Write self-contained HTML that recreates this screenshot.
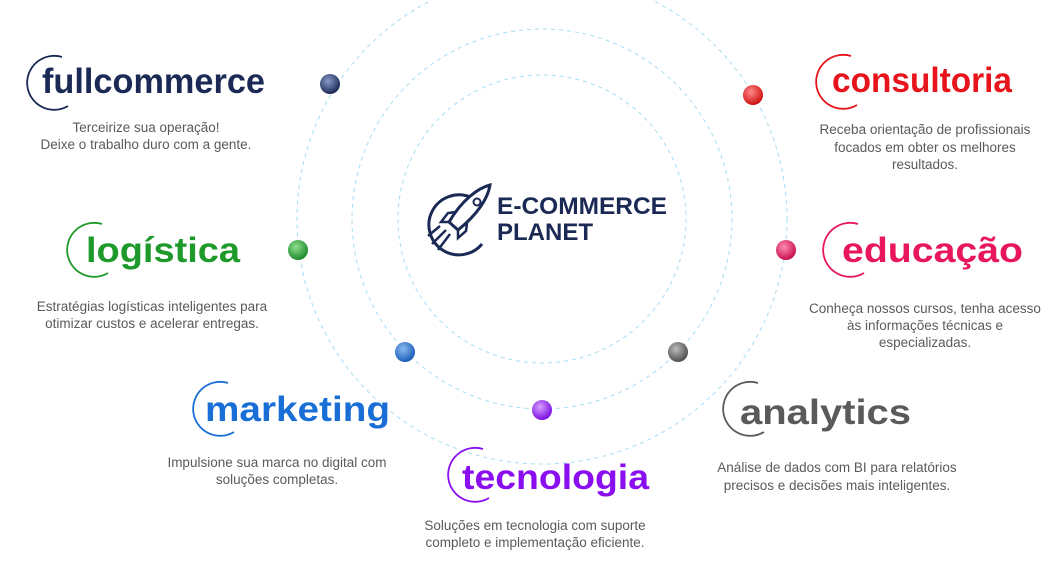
<!DOCTYPE html>
<html><head><meta charset="utf-8"><style>
html,body{margin:0;padding:0;background:#fff;width:1050px;height:562px;overflow:hidden}
svg{display:block}
.t{font-family:"Liberation Sans",sans-serif;font-weight:bold;font-size:35px}
.d{font-family:"Liberation Sans",sans-serif;font-size:13.5px;fill:#5a5a5a;text-anchor:middle}
.logo{font-family:"Liberation Sans",sans-serif;font-weight:bold;font-size:24px;fill:#1b2a55}
</style></head><body>
<svg width="1050" height="562" viewBox="0 0 1050 562" xmlns="http://www.w3.org/2000/svg">
<defs>
<radialGradient id="g1" cx="40%" cy="35%" r="65%"><stop offset="0" stop-color="#8a9ac8"/><stop offset="1" stop-color="#1b2a55"/></radialGradient>
<radialGradient id="g2" cx="40%" cy="35%" r="65%"><stop offset="0" stop-color="#ff8a8a"/><stop offset="1" stop-color="#d01010"/></radialGradient>
<radialGradient id="g3" cx="40%" cy="35%" r="65%"><stop offset="0" stop-color="#8ee08e"/><stop offset="1" stop-color="#1e8a2a"/></radialGradient>
<radialGradient id="g4" cx="40%" cy="35%" r="65%"><stop offset="0" stop-color="#ff8ab0"/><stop offset="1" stop-color="#c8104e"/></radialGradient>
<radialGradient id="g5" cx="40%" cy="35%" r="65%"><stop offset="0" stop-color="#8ab8f0"/><stop offset="1" stop-color="#1a5fb8"/></radialGradient>
<radialGradient id="g6" cx="40%" cy="35%" r="65%"><stop offset="0" stop-color="#bbbbbb"/><stop offset="1" stop-color="#505050"/></radialGradient>
<radialGradient id="g7" cx="40%" cy="35%" r="65%"><stop offset="0" stop-color="#d8a0ff"/><stop offset="1" stop-color="#7a0ee0"/></radialGradient>
</defs>
<g fill="none" stroke="#a8dcf5" stroke-width="1" stroke-dasharray="4,4">
<circle cx="542" cy="219" r="144"/>
<circle cx="542" cy="219" r="190"/>
<circle cx="542" cy="219" r="245"/>
</g>
<!-- logo -->
<g fill="none" stroke="#1b2a55" stroke-width="3">
<path d="M470 197 A30 30 0 1 0 482 244"/>
<path d="M449 222 C462 200 478 188 490 185 C488 198 478 214 458 230 Z"/>
<circle cx="477" cy="202" r="3.5" stroke-width="2"/>
<path d="M449 222 L441 222 L448 213 L456 212" stroke-width="2.5"/>
<path d="M458 230 L458 238 L466 231 L467 223" stroke-width="2.5"/>
<path d="M446 230 L432 244 M450 234 L438 250 M440 226 L428 236" stroke-width="2.5"/>
</g>
<text class="logo" x="497" y="214" textLength="170" lengthAdjust="spacingAndGlyphs">E-COMMERCE</text>
<text class="logo" x="497" y="240" textLength="96" lengthAdjust="spacingAndGlyphs">PLANET</text>
<!-- dots -->
<circle cx="330" cy="84" r="10" fill="url(#g1)"/>
<circle cx="753" cy="95" r="10" fill="url(#g2)"/>
<circle cx="298" cy="250" r="10" fill="url(#g3)"/>
<circle cx="786" cy="250" r="10" fill="url(#g4)"/>
<circle cx="405" cy="352" r="10" fill="url(#g5)"/>
<circle cx="678" cy="352" r="10" fill="url(#g6)"/>
<circle cx="542" cy="410" r="10" fill="url(#g7)"/>
<!-- titles -->
<g fill="none" stroke-width="1.8">
<path stroke="#1b2a55" d="M62 57 A27 27 0 1 0 68 106"/>
<path stroke="#e8141b" d="M851 56 A27 27 0 1 0 857 105"/>
<path stroke="#1e9a2a" d="M102 224 A27 27 0 1 0 108 273"/>
<path stroke="#e8175d" d="M858 224 A27 27 0 1 0 864 273"/>
<path stroke="#1a6fd6" d="M228 383 A27 27 0 1 0 234 432"/>
<path stroke="#5a5a5a" d="M758 383 A27 27 0 1 0 764 432"/>
<path stroke="#8a0ef0" d="M483 449 A27 27 0 1 0 489 498"/>
</g>
<text class="t" x="42" y="93" fill="#1b2a55" textLength="223" lengthAdjust="spacingAndGlyphs">fullcommerce</text>
<text class="t" x="832" y="92" fill="#e8141b" textLength="180" lengthAdjust="spacingAndGlyphs">consultoria</text>
<text class="t" x="86" y="262" fill="#1e9a2a" textLength="154" lengthAdjust="spacingAndGlyphs">logística</text>
<text class="t" x="842" y="262" fill="#e8175d" textLength="181" lengthAdjust="spacingAndGlyphs">educação</text>
<text class="t" x="205" y="421" fill="#1a6fd6" textLength="185" lengthAdjust="spacingAndGlyphs">marketing</text>
<text class="t" x="740" y="424" fill="#5a5a5a" textLength="171" lengthAdjust="spacingAndGlyphs">analytics</text>
<text class="t" x="462" y="489" fill="#8a0ef0" textLength="187" lengthAdjust="spacingAndGlyphs">tecnologia</text>
<!-- descriptions -->
<text class="d" x="146" y="132">Terceirize sua operação!</text>
<text class="d" x="146" y="149">Deixe o trabalho duro com a gente.</text>
<text class="d" x="925" y="134">Receba orientação de profissionais</text>
<text class="d" x="925" y="152">focados em obter os melhores</text>
<text class="d" x="925" y="169">resultados.</text>
<text class="d" x="152" y="311">Estratégias logísticas inteligentes para</text>
<text class="d" x="152" y="328">otimizar custos e acelerar entregas.</text>
<text class="d" x="925" y="313">Conheça nossos cursos, tenha acesso</text>
<text class="d" x="925" y="330">às informações técnicas e</text>
<text class="d" x="925" y="347">especializadas.</text>
<text class="d" x="277" y="467">Impulsione sua marca no digital com</text>
<text class="d" x="277" y="484">soluções completas.</text>
<text class="d" x="837" y="472">Análise de dados com BI para relatórios</text>
<text class="d" x="837" y="490">precisos e decisões mais inteligentes.</text>
<text class="d" x="535" y="530">Soluções em tecnologia com suporte</text>
<text class="d" x="535" y="547">completo e implementação eficiente.</text>
</svg>
</body></html>
